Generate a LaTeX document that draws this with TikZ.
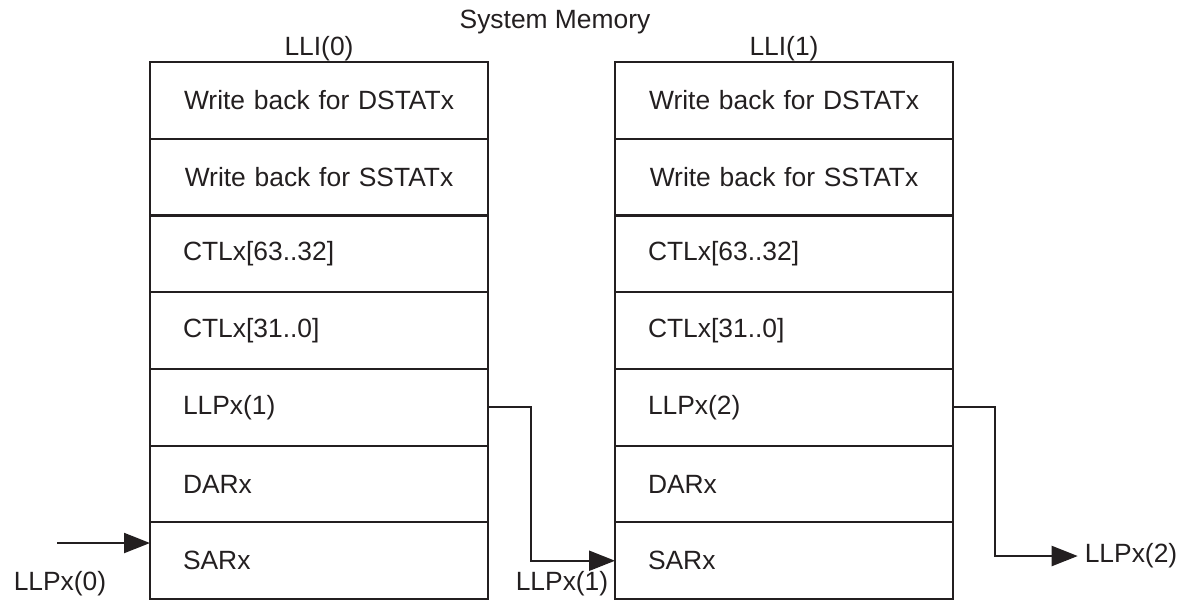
\documentclass[tikz,border=0pt]{standalone}
\usepackage{fontspec}
\setmainfont{Liberation Sans}
\usepackage{xcolor}
\usetikzlibrary{arrows.meta, positioning}
\definecolor{ink}{HTML}{231F20}

\begin{document}
\begin{tikzpicture}[
    x=0.5pt, y=-0.5pt,
    every node/.style={font=\fontsize{13.2}{15}\selectfont, text=ink},
    cell/.style={rectangle, draw=ink, line width=1.1pt, outer sep=0pt,
        minimum width=169pt, minimum height=38.36pt, inner xsep=16.5pt,
        text width=136pt, align=left},
    wide/.style={cell, align=center},
    link/.style={draw=ink, line width=1.1pt, -{Triangle[length=13pt,width=10pt]}}
]
\useasboundingbox (0,0) rectangle (1186,602);

% LLI(0)
\node[wide] (d0) at (319,100.4) {Write back for DSTATx};
\node[wide, below=0pt of d0] (w0) {Write back for SSTATx};
\node[cell, below=0pt of w0] (h0) {CTLx[63..32]};
\node[cell, below=0pt of h0] (c0) {CTLx[31..0]};
\node[cell, below=0pt of c0] (p0) {LLPx(1)};
\node[cell, below=0pt of p0] (a0) {DARx};
\node[cell, below=0pt of a0] (s0) {SARx};

% LLI(1)
\node[wide] (d1) at (784,100.4) {Write back for DSTATx};
\node[wide, below=0pt of d1] (w1) {Write back for SSTATx};
\node[cell, below=0pt of w1] (h1) {CTLx[63..32]};
\node[cell, below=0pt of h1] (c1) {CTLx[31..0]};
\node[cell, below=0pt of c1] (p1) {LLPx(2)};
\node[cell, below=0pt of p1] (a1) {DARx};
\node[cell, below=0pt of a1] (s1) {SARx};

% titles
\node (mem) at (555,22) {System Memory};
\node[above=-3pt of d0] (lli0) {LLI(0)};
\node[above=-3pt of d1] (lli1) {LLI(1)};

% pointers
\coordinate (in0) at (57,543);
\node (llp0) at (60,584) {LLPx(0)};
\node (llp1) at (562,584) {LLPx(1)};
\node (llp2) at (1131,556) {LLPx(2)};

\draw[link] (in0) -- (in0 -| s0.west);
\draw[link] (p0.east) -- ++(21.5pt,0) |- (s1.west);
\draw[link] (p1.east) -- ++(21pt,0) |- (llp2.west);
\end{tikzpicture}
\end{document}
